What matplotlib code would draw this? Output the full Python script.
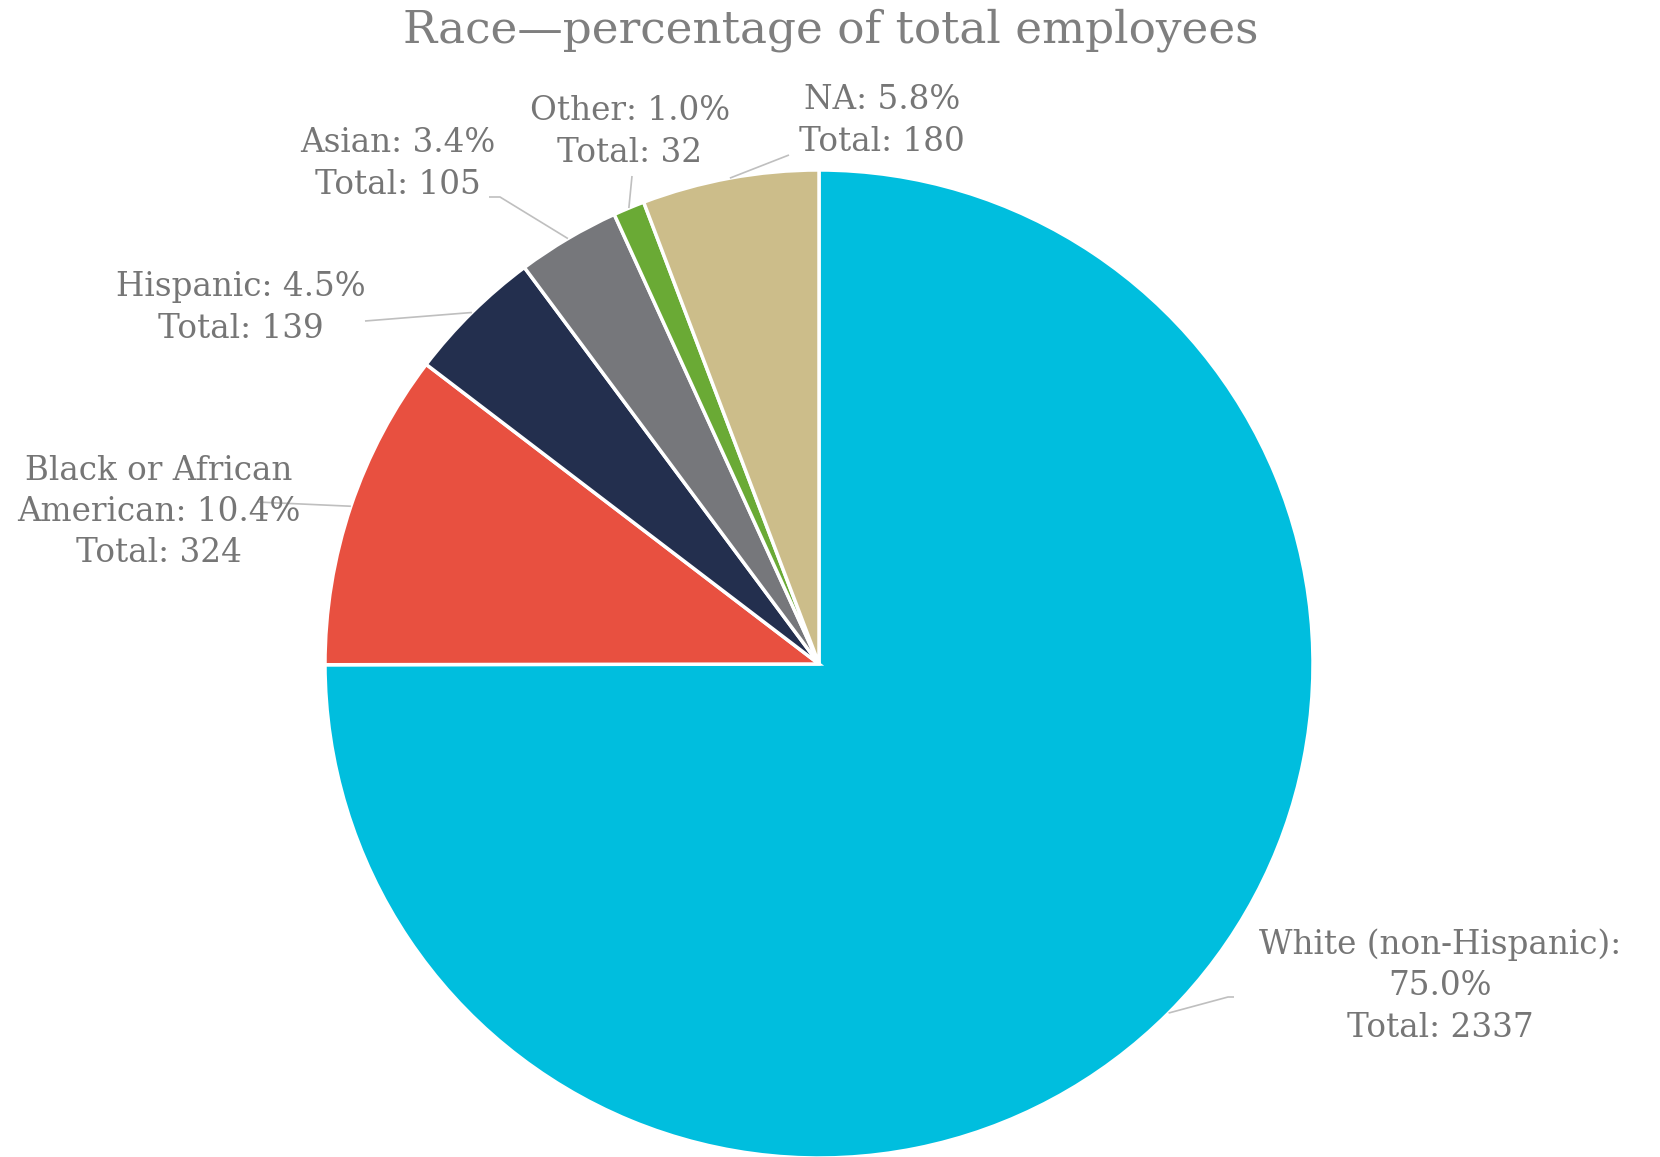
import numpy as np
import matplotlib
matplotlib.use("Agg")
import matplotlib.pyplot as plt

# Employee counts by race
categories = ["White (non-Hispanic)", "Black or African American", "Hispanic",
              "Asian", "Other", "NA"]
totals = [2337, 324, 139, 105, 32, 180]
colors = ["#00BEDE", "#E85040", "#232F4E", "#76777B", "#6AAA35", "#CCBD8A"]

# Label text lines (wrapped as displayed)
label_lines = [
    ["White (non-Hispanic):", "{pct}", "Total: {n}"],
    ["Black or African", "American: {pct}", "Total: {n}"],
    ["Hispanic: {pct}", "Total: {n}"],
    ["Asian: {pct}", "Total: {n}"],
    ["Other: {pct}", "Total: {n}"],
    ["NA: {pct}", "Total: {n}"],
]

W, H = 1660, 1157
fig = plt.figure(figsize=(W / 100, H / 100), dpi=100)
ax = fig.add_axes([0, 0, 1, 1])


def Y(y_px):
    return H - y_px


cx, cy, r = 819, 664, 494
wedges, _ = ax.pie(totals, colors=colors, startangle=90, counterclock=False,
                   center=(cx, Y(cy)), radius=r, frame=True,
                   wedgeprops=dict(edgecolor="white", linewidth=2.5))
ax.set_xlim(0, W)
ax.set_ylim(0, H)
ax.set_aspect("equal")
ax.axis("off")

font = "DejaVu Serif"
txt_color = "#767676"
line_color = "#BFBFBF"

ax.text(W / 2 + 1, Y(30), "Race\u2014percentage of total employees",
        ha="center", va="center", fontsize=32.7, color="#7F7F7F", family=font)

# label centres and leader-line end points (pixel layout)
label_pos = [(1440, 986), (159, 512), (241, 308), (398, 164), (630, 132), (882, 121)]
leader_end = [[(1228, 997), (1234, 997)], [(257, 502)], [(365, 321)],
              [(500, 197), (489, 197)], [(632, 176)], [(789, 155)]]

total = sum(totals)
for w, n, lines, pos, ends in zip(wedges, totals, label_lines, label_pos, leader_end):
    pct = f"{100 * n / total:.1f}%"
    text = "\n".join(s.format(pct=pct, n=n) for s in lines)
    ax.text(pos[0], Y(pos[1]), text, ha="center", va="center", fontsize=23.5,
            color=txt_color, family=font, linespacing=1.37)
    mid = np.deg2rad((w.theta1 + w.theta2) / 2)
    x0, y0 = cx + r * np.cos(mid), Y(cy) + r * np.sin(mid)
    xs = [x0] + [p[0] for p in ends]
    ys = [y0] + [Y(p[1]) for p in ends]
    ax.plot(xs, ys, color=line_color, lw=1.2, solid_capstyle="butt")

fig.savefig("out.png", dpi=100, facecolor="white")
